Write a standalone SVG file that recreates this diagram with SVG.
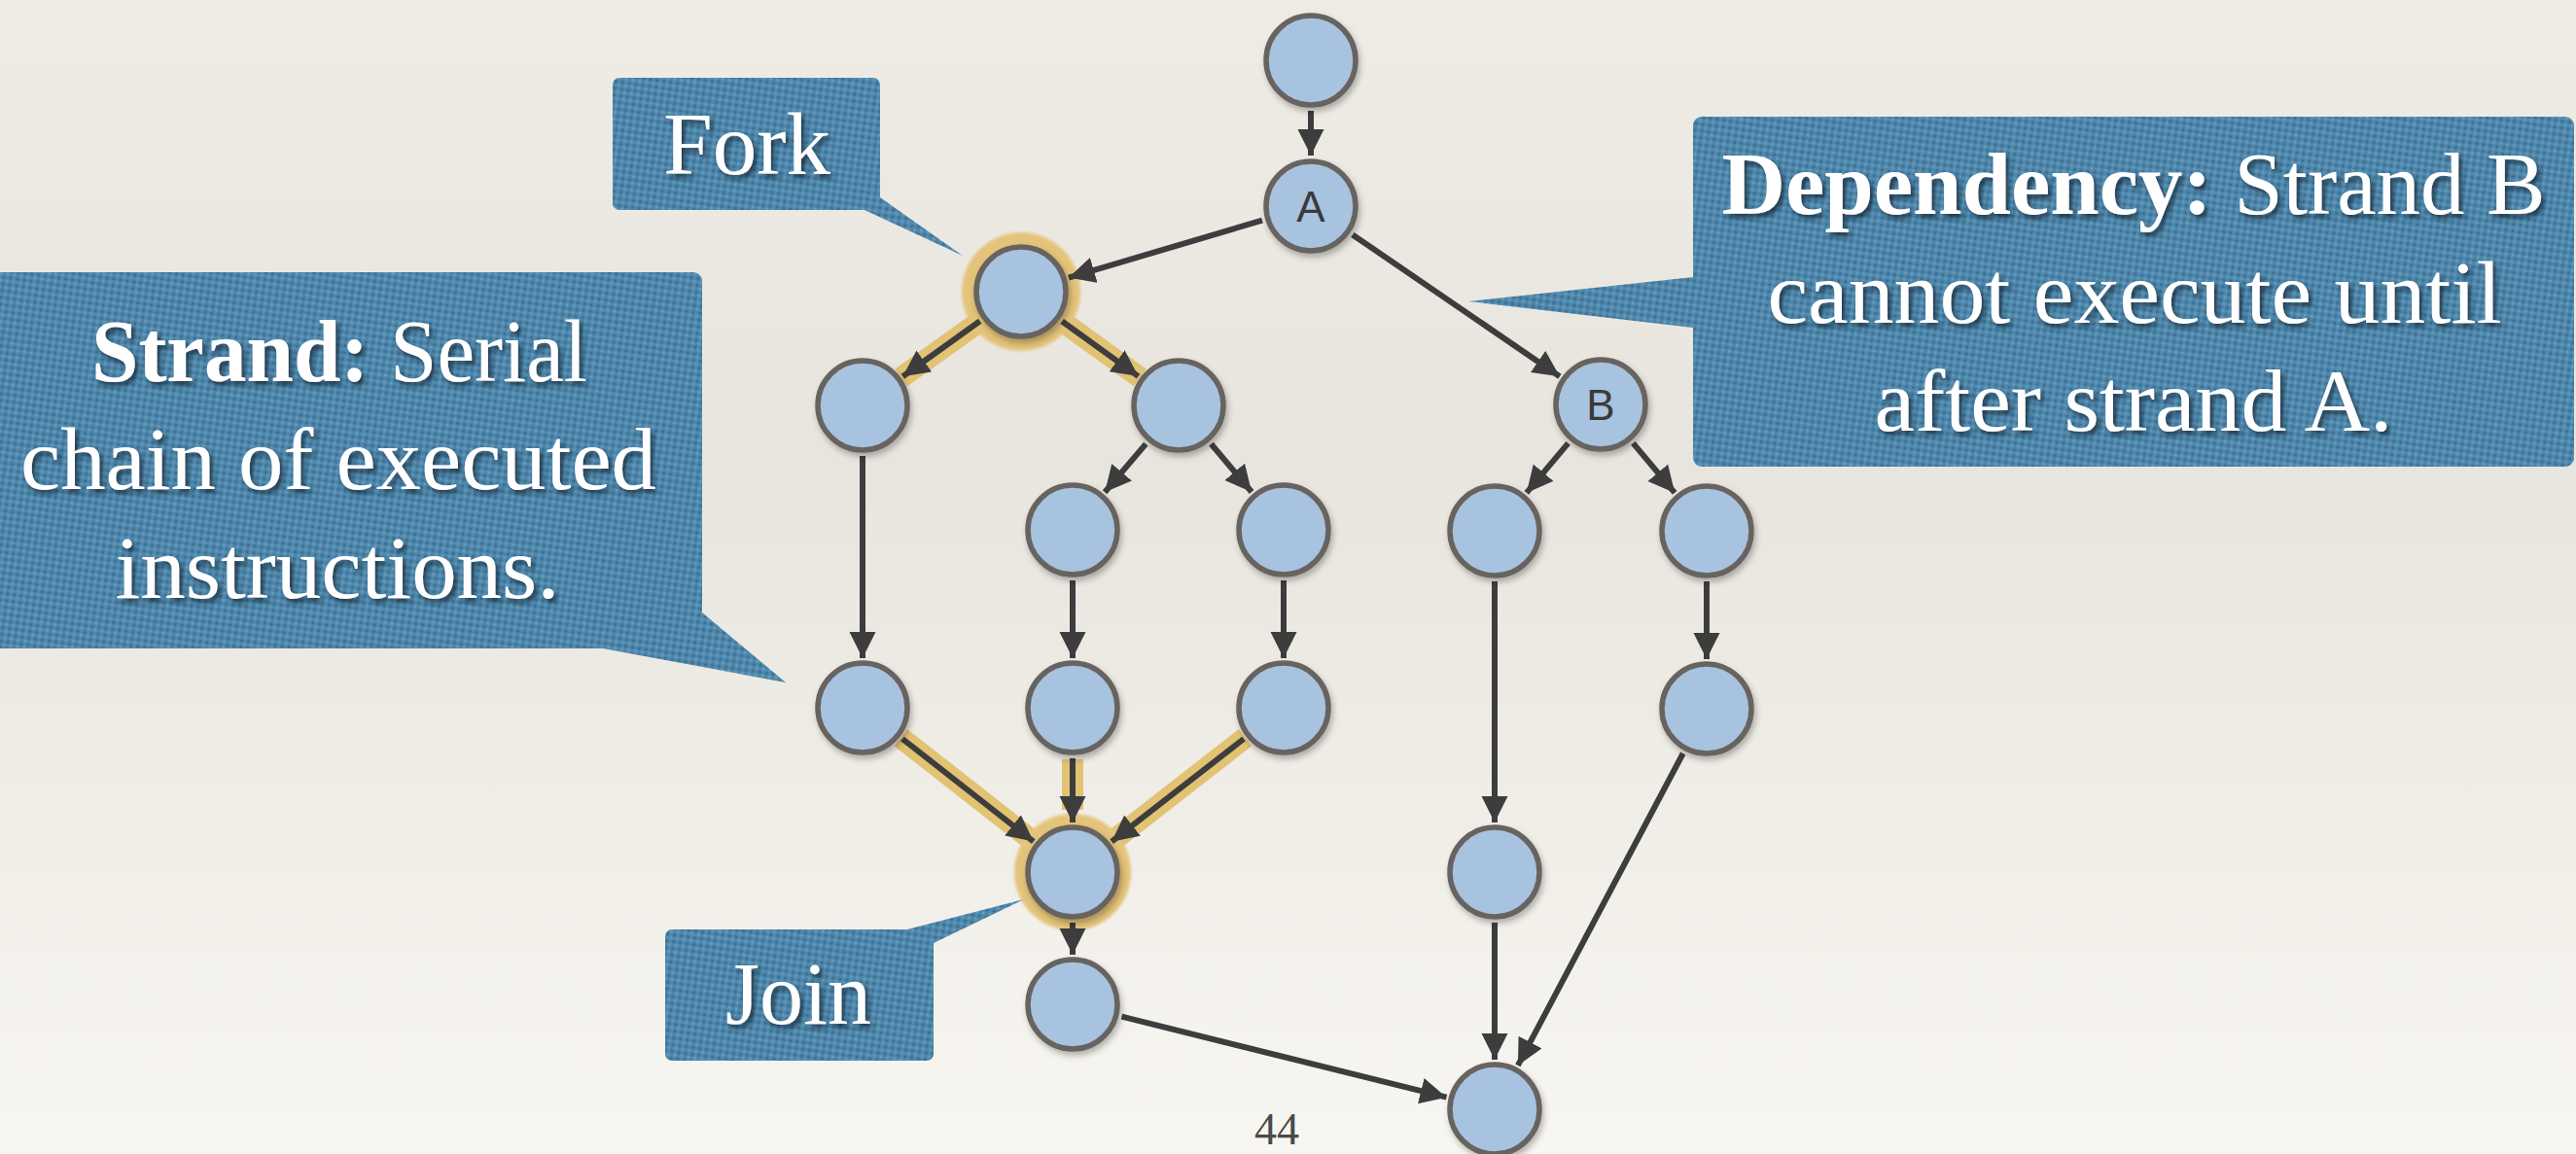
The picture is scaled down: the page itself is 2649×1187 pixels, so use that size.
<svg xmlns="http://www.w3.org/2000/svg" width="2649" height="1187" viewBox="0 0 2649 1187">
<defs>
  <linearGradient id="bg" x1="0" y1="0" x2="0" y2="1">
    <stop offset="0" stop-color="#EFECE6"/>
    <stop offset="0.4" stop-color="#E8E5DF"/>
    <stop offset="1" stop-color="#F8F6F0"/>
  </linearGradient>
  <pattern id="dots" patternUnits="userSpaceOnUse" width="7" height="7" patternTransform="rotate(8)">
    <rect width="7" height="7" fill="#4F88AC"/>
    <circle cx="1.8" cy="1.8" r="1.6" fill="#3A6C8F"/>
    <circle cx="5.3" cy="5.3" r="1.3" fill="#69A1C3"/>
  </pattern>
  <filter id="tshadow" x="-10%" y="-20%" width="120%" height="150%">
    <feDropShadow dx="3" dy="4" stdDeviation="2.5" flood-color="#132a3a" flood-opacity="0.85"/>
  </filter>
  <filter id="nshadow" x="-30%" y="-30%" width="160%" height="160%">
    <feDropShadow dx="2" dy="4" stdDeviation="3" flood-color="#000" flood-opacity="0.28"/>
  </filter>
  <filter id="glow" x="-30%" y="-30%" width="160%" height="160%">
    <feGaussianBlur stdDeviation="1.5"/>
  </filter>
  <marker id="arr" markerUnits="userSpaceOnUse" markerWidth="30" markerHeight="30" refX="27" refY="13.5" orient="auto">
    <path d="M0,0 L27,13.5 L0,27 z" fill="#3D3D3D"/>
  </marker>
  <style>
    .node circle.n { fill:#A7C3E0; stroke:#67635F; stroke-width:5.5; }
    .edge { stroke:#3D3D3D; stroke-width:6; fill:none; marker-end:url(#arr); }
    .gold { stroke:#E2C273; stroke-width:22; fill:none; }
    .ring { fill:#E4C47A; }
    .callout { fill:url(#dots); }
    .ct { font-family:"Liberation Serif","Times New Roman",serif; font-size:92px; fill:#FFFFFF; text-anchor:middle; filter:url(#tshadow); }
    .ct .b { font-weight:bold; }
    .lbl { font-family:"Liberation Sans",Arial,sans-serif; font-size:44px; fill:#3A3A3A; text-anchor:middle; }
  </style>
</defs>

<rect x="0" y="0" width="2649" height="1187" fill="url(#bg)"/>

<!-- highlights -->
<g id="highlights">
  <line class="gold" x1="1009.4" y1="329.2" x2="926.8" y2="388.4"/>
  <line class="gold" x1="1090.6" y1="329.3" x2="1172.3" y2="388.3"/>
  <line class="gold" x1="926.4" y1="758.8" x2="1057.3" y2="861.3"/>
  <line class="gold" x1="1103" y1="781" x2="1103" y2="833"/>
  <line class="gold" x1="1280.5" y1="758.7" x2="1148.8" y2="861.4"/>
  <circle class="ring" cx="1050" cy="300" r="61" filter="url(#glow)"/>
  <circle class="ring" cx="1103" cy="897" r="60" filter="url(#glow)"/>
</g>

<!-- connectors -->
<g id="connectors">
  <line class="edge" x1="1348" y1="114" x2="1348" y2="160"/>
  <line class="edge" x1="1298" y1="226.7" x2="1098.9" y2="285.6"/>
  <line class="edge" x1="1390.9" y1="241.4" x2="1603.9" y2="387.2"/>
  <line class="edge" x1="1007.7" y1="330.3" x2="928.4" y2="387.3"/>
  <line class="edge" x1="1092.2" y1="330.5" x2="1170.6" y2="387.1"/>
  <line class="edge" x1="1178.3" y1="456.6" x2="1136.1" y2="506.2"/>
  <line class="edge" x1="1245.5" y1="456.7" x2="1287.1" y2="506"/>
  <line class="edge" x1="1612.6" y1="455.9" x2="1569.8" y2="506.9"/>
  <line class="edge" x1="1679.4" y1="455.9" x2="1722.2" y2="506.9"/>
  <line class="edge" x1="887" y1="469" x2="887" y2="677"/>
  <line class="edge" x1="1103" y1="597" x2="1103" y2="677"/>
  <line class="edge" x1="1320" y1="597" x2="1320" y2="677"/>
  <line class="edge" x1="1537" y1="598" x2="1537" y2="846"/>
  <line class="edge" x1="1755" y1="598" x2="1755" y2="678"/>
  <line class="edge" x1="928" y1="760" x2="1062.8" y2="865.6"/>
  <line class="edge" x1="1103" y1="780" x2="1103" y2="846"/>
  <line class="edge" x1="1279" y1="760" x2="1143.2" y2="865.7"/>
  <line class="edge" x1="1103" y1="949" x2="1103" y2="982"/>
  <line class="edge" x1="1153.5" y1="1045.6" x2="1487.5" y2="1128.7"/>
  <line class="edge" x1="1537" y1="949" x2="1537" y2="1090"/>
  <line class="edge" x1="1730.7" y1="775" x2="1560.9" y2="1095.9"/>
</g>

<!-- nodes -->
<g id="node-top" class="node"><circle class="n" cx="1348" cy="62" r="46" filter="url(#nshadow)"/></g>
<g id="node-A" class="node"><circle class="n" cx="1348" cy="212" r="46" filter="url(#nshadow)"/><text class="lbl" x="1348" y="228">A</text></g>
<g id="node-fork" class="node"><circle class="n" cx="1050" cy="300" r="46" filter="url(#nshadow)"/></g>
<g id="node-L1" class="node"><circle class="n" cx="887" cy="417" r="46" filter="url(#nshadow)"/></g>
<g id="node-R1" class="node"><circle class="n" cx="1212" cy="417" r="46" filter="url(#nshadow)"/></g>
<g id="node-R1L" class="node"><circle class="n" cx="1103" cy="545" r="46" filter="url(#nshadow)"/></g>
<g id="node-R1R" class="node"><circle class="n" cx="1320" cy="545" r="46" filter="url(#nshadow)"/></g>
<g id="node-B" class="node"><circle class="n" cx="1646" cy="416" r="46" filter="url(#nshadow)"/><text class="lbl" x="1646" y="432">B</text></g>
<g id="node-BL" class="node"><circle class="n" cx="1537" cy="546" r="46" filter="url(#nshadow)"/></g>
<g id="node-BR" class="node"><circle class="n" cx="1755" cy="546" r="46" filter="url(#nshadow)"/></g>
<g id="node-L2" class="node"><circle class="n" cx="887" cy="728" r="46" filter="url(#nshadow)"/></g>
<g id="node-M2" class="node"><circle class="n" cx="1103" cy="728" r="46" filter="url(#nshadow)"/></g>
<g id="node-R2" class="node"><circle class="n" cx="1320" cy="728" r="46" filter="url(#nshadow)"/></g>
<g id="node-BR2" class="node"><circle class="n" cx="1755" cy="729" r="46" filter="url(#nshadow)"/></g>
<g id="node-join" class="node"><circle class="n" cx="1103" cy="897" r="46" filter="url(#nshadow)"/></g>
<g id="node-BL2" class="node"><circle class="n" cx="1537" cy="897" r="46" filter="url(#nshadow)"/></g>
<g id="node-AJ" class="node"><circle class="n" cx="1103" cy="1033" r="46" filter="url(#nshadow)"/></g>
<g id="node-final" class="node"><circle class="n" cx="1537" cy="1141" r="46" filter="url(#nshadow)"/></g>

<!-- callouts -->
<g id="callout-fork">
  <rect class="callout" x="630" y="80" width="275" height="136" rx="7"/>
  <polygon class="callout" points="880,200 889,216 990,263 905,203 905,200"/>
  <text class="ct" x="768" y="179" textLength="172" lengthAdjust="spacingAndGlyphs">Fork</text>
</g>
<g id="callout-strand">
  <rect class="callout" x="-20" y="280" width="742" height="387" rx="9"/>
  <polygon class="callout" points="600,660 620,667 808,702 722,630 710,630"/>
  <text class="ct" x="349" y="392" textLength="510" lengthAdjust="spacingAndGlyphs"><tspan class="b">Strand:</tspan> Serial</text>
  <text class="ct" x="348" y="503" textLength="654" lengthAdjust="spacingAndGlyphs">chain of executed</text>
  <text class="ct" x="347" y="615" textLength="457" lengthAdjust="spacingAndGlyphs">instructions.</text>
</g>
<g id="callout-dependency">
  <rect class="callout" x="1741" y="120" width="906" height="360" rx="9"/>
  <polygon class="callout" points="1750,285 1741,285 1510,310 1741,337 1750,337"/>
  <text class="ct" x="2194" y="220" textLength="847" lengthAdjust="spacingAndGlyphs"><tspan class="b">Dependency:</tspan> Strand B</text>
  <text class="ct" x="2195" y="332" textLength="755" lengthAdjust="spacingAndGlyphs">cannot execute until</text>
  <text class="ct" x="2194" y="443" textLength="533" lengthAdjust="spacingAndGlyphs">after strand A.</text>
</g>
<g id="callout-join">
  <rect class="callout" x="684" y="956" width="276" height="135" rx="7"/>
  <polygon class="callout" points="925,965 933,956 1053,925 960,970 955,970"/>
  <text class="ct" x="821" y="1053" textLength="150" lengthAdjust="spacingAndGlyphs">Join</text>
</g>

<text x="1313" y="1177" font-family="Liberation Serif, Times New Roman, serif" font-size="46" fill="#4A4A4A" text-anchor="middle">44</text>
</svg>
